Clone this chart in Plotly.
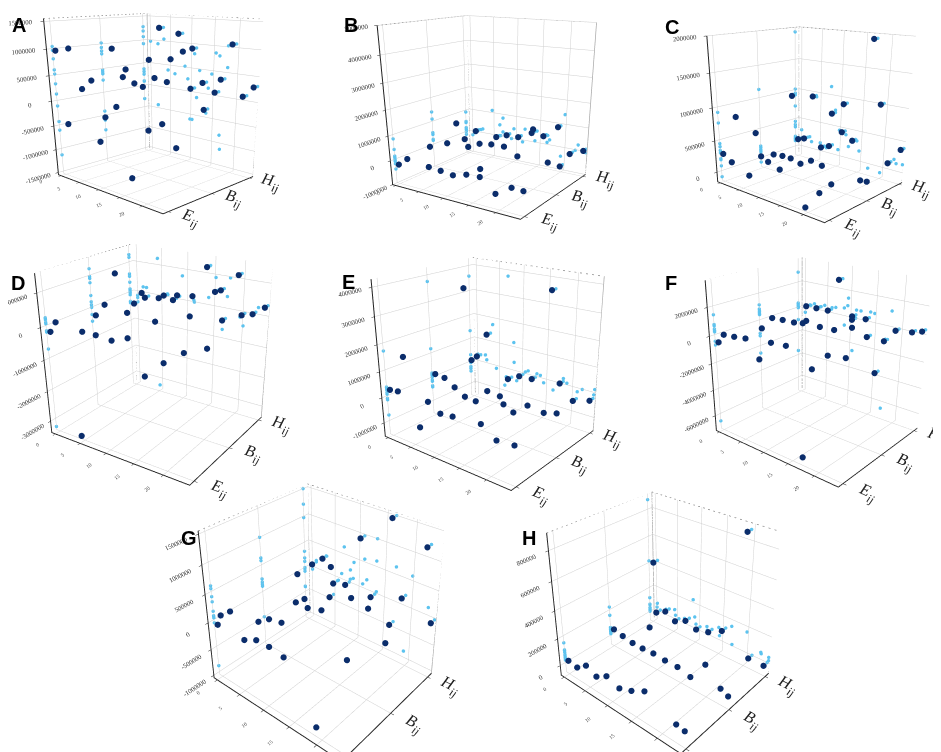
import math
import plotly.graph_objects as go

# ---------------- shared axis content ----------------
CAT_LABELS = ['<i>E</i><sub><i>ij</i></sub>', '<i>B</i><sub><i>ij</i></sub>', '<i>H</i><sub><i>ij</i></sub>']
CAT_POS = [0, 1, 2]
Y_RANGE = [-0.11, 2.11]
X_RANGE = [-0.75, 24.25]
X_TICKS = [0, 5, 10, 15, 20]

# ---------------- panel A ----------------
A_E_x = [0, 3.4, 6.1, 8.5, 16.2, 1.8, 11.3, 13.9, 9.8, 16.8, 17.9]
A_E_z = [970000, 1040000, 330000, 520000, 810000, -430000, -110000, 130000, -610000, -1140000, 600000]
A_B_x = [1.9, 4.4, 9.2, 10.3, 10.7, 15.4, 17.9, 11.9, 14.6, 13.5, 16.6]
A_B_z = [930000, 390000, 260000, -610000, 800000, 860000, 1020000, 470000, 430000, -410000, -830000]
A_H_x = [3.3, 7.9, 11.1, 10.8, 13.5, 13.9, 16.2, 17.4, 19.5, 22.0, 24.0]
A_H_z = [1280000, 1190000, 920000, 90000, 250000, -310000, 90000, 370000, 1070000, 100000, 310000]
A_Z_RANGE = [-1550000, 1550000]
A_Z_TICKS = [-1500000, -1000000, -500000, 0, 500000, 1000000, 1500000]

# ---------------- panel B ----------------
B_E_x = [0, 2.0, 6.5, 7.0, 8.9, 11.3, 13.9, 16.5, 16.4, 19.2, 22.0, 24.0]
B_E_z = [-190000, 130000, 10000, 830000, -30000, -90000, 60000, 400000, 90000, -410000, -30000, -50000]
B_B_x = [2.4, 4.6, 6.3, 7.0, 9.4, 11.8, 14.3, 16.9, 19.7, 22.5]
B_B_z = [170000, 1100000, 500000, 200000, 430000, 500000, 510000, 220000, 1400000, 220000]
B_H_x = [1.5, 6.2, 8.5, 11.0, 13.8, 16.2, 19.0, 19.7, 21.5, 24.0]
B_H_z = [100000, 0, 170000, 180000, 470000, 420000, 910000, -770000, -140000, 100000]
B_Z_RANGE = [-1000000, 5000000]
B_Z_TICKS = [-1000000, 0, 1000000, 2000000, 3000000, 4000000, 5000000]

# ---------------- panel C ----------------
C_E_x = [0, 2.2, 3.9, 6.6, 8.6, 9.7, 11.3, 13.9, 22.2, 19.4]
C_E_z = [290000, 200000, 920000, 80000, 760000, 440000, 390000, 330000, 180000, -100000]
C_B_x = [2.7, 5.0, 7.1, 7.5, 9.5, 12.0, 14.5, 16.7, 22.7, 24.0]
C_B_z = [120000, 140000, 140000, 1130000, 100000, 200000, 170000, -80000, 120000, 130000]
C_H_x = [0, 1.6, 3.8, 6.1, 8.1, 8.6, 11.1, 11.3, 13.6, 17.1, 19.3, 21.6, 24.0]
C_H_z = [140000, 180000, 940000, 100000, 160000, 720000, 450000, 910000, 350000, 1930000, 1010000, 130000, 390000]
C_Z_RANGE = [-160000, 2000000]
C_Z_TICKS = [0, 500000, 1000000, 1500000, 2000000]

# ---------------- panel D ----------------
D_E_x = [0, 1.2, 4.4, 6.1, 8.5, 11.2, 13.9, 16.5, 19.5, 22.5]
D_E_z = [-160000, 170000, -3290000, 90000, 90000, 50000, 230000, -720000, -200000, 210000]
D_B_x = [0, 1.9, 4.2, 6.2, 9.0, 11.3, 15.1, 17.2, 17.6, 20.1]
D_B_z = [-240000, 170000, 1200000, 70000, 770000, -10000, 900000, 370000, 960000, -460000]
D_H_x = [0, 2.3, 5.1, 6.1, 7.9, 14.1, 15.6, 16.6, 17.0, 19.5, 20.3, 22.1, 24.0]
D_H_z = [-390000, -110000, -30000, 90000, 0, 1240000, 520000, 600000, -340000, 1150000, -50000, 50000, 320000]
D_Z_RANGE = [-3400000, 1550000]
D_Z_TICKS = [-3000000, -2000000, -1000000, 0, 1000000]

# ---------------- panel E ----------------
E_E_x = [0, 1.8, 3.5, 6.2, 8.2, 10.6, 13.0, 18.2, 20.9, 23.9]
E_E_z = [280000, 330000, 1710000, -770000, 340000, 60000, 120000, 220000, -160000, -100000]
E_B_x = [0, 2.1, 4.3, 6.5, 6.8, 8.1, 8.8, 11.2, 13.7, 14.4, 16.3, 18.9, 21.8, 24.0]
E_B_z = [170000, 130000, -130000, -380000, 3760000, 1170000, -420000, 140000, 90000, -180000, -370000, 70000, -10000, 120000]
E_H_x = [0.7, 3.0, 7.7, 10.1, 12.7, 16.1, 18.2, 20.8, 23.8]
E_H_z = [280000, 1330000, -330000, -70000, -40000, 3580000, 100000, -450000, -250000]
E_Z_RANGE = [-1550000, 4270000]
E_Z_TICKS = [-1000000, 0, 1000000, 2000000, 3000000, 4000000]

# ---------------- panel F ----------------
F_E_x = [0, 1.3, 3.6, 6.0, 8.7, 9.4, 11.1, 13.9, 16.9]
F_E_z = [-470000, 200000, 280000, 400000, -740000, 1400000, 630000, 720000, -6600000]
F_B_x = [2.1, 4.4, 6.8, 8.6, 9.3, 10.5, 12.0, 13.6, 14.7, 17.0, 17.9]
F_B_z = [390000, 450000, 480000, 590000, 820000, -2600000, 640000, -1240000, 680000, -1040000, 1130000]
F_H_x = [1.1, 3.4, 5.9, 8.1, 11.0, 11.0, 13.7, 14.1, 16.0, 17.4, 19.4, 22.3, 24.0]
F_H_z = [220000, 250000, 270000, 2760000, 260000, 0, 280000, -1030000, -3650000, -1020000, -50000, 110000, 330000]
F_Z_RANGE = [-7200000, 3800000]
F_Z_TICKS = [-6000000, -4000000, -2000000, 0, 2000000]

# ---------------- panel G ----------------
G_E_x = [0, 0.9, 3.1, 5.7, 8.2, 8.9, 10.7, 11.0, 13.3, 13.4, 19.0]
G_E_z = [-60000, 150000, 320000, -60000, 60000, 410000, 70000, 550000, 600000, 30000, -880000]
G_B_x = [6.4, 6.9, 8.2, 8.8, 11.5, 13.3, 16.3, 16.9, 19.8, 22.8]
G_B_z = [100000, 630000, 240000, 100000, 180000, 1000000, -500000, 630000, 580000, 140000]
G_H_x = [0.9, 3.2, 4.7, 5.5, 8.0, 10.9, 13.1, 16.5, 16.8, 18.8, 22.5, 24.0]
G_H_z = [120000, 320000, -390000, -80000, -5000, 970000, -30000, 1500000, -400000, 190000, 1220000, -30000]
G_Z_RANGE = [-1050000, 1550000]
G_Z_TICKS = [-1000000, -500000, 0, 500000, 1000000, 1500000]

# ---------------- panel H ----------------
H_E_x = [0, 2.1, 4.3, 6.6, 8.9, 11.6, 14.1, 16.7, 22.5, 24.0]
H_E_z = [27000, 17000, 75000, 40000, 90000, 59000, 95000, 148000, 53000, 43000]
H_B_x = [0.1, 2.2, 4.5, 6.8, 8.5, 9.2, 11.7, 14.3, 16.9, 19.7, 22.6, 24.0]
H_B_z = [60000, 44000, 31000, 30000, 221000, 37000, 31000, 33000, 10000, 157000, 44000, 18000]
H_H_x = [0.3, 0.8, 3.0, 5.3, 7.7, 10.1, 12.7, 15.5, 19.4, 20.9, 23.8]
H_H_z = [412000, 14000, 59000, 16000, 60000, 31000, 55000, 114000, 868000, 0, 0]
H_Z_RANGE = [-74000, 910000]
H_Z_TICKS = [0, 200000, 400000, 600000, 800000]

PANELS = [
    ('A', [(A_E_x, A_E_z), (A_B_x, A_B_z), (A_H_x, A_H_z)], A_Z_RANGE, A_Z_TICKS),
    ('B', [(B_E_x, B_E_z), (B_B_x, B_B_z), (B_H_x, B_H_z)], B_Z_RANGE, B_Z_TICKS),
    ('C', [(C_E_x, C_E_z), (C_B_x, C_B_z), (C_H_x, C_H_z)], C_Z_RANGE, C_Z_TICKS),
    ('D', [(D_E_x, D_E_z), (D_B_x, D_B_z), (D_H_x, D_H_z)], D_Z_RANGE, D_Z_TICKS),
    ('E', [(E_E_x, E_E_z), (E_B_x, E_B_z), (E_H_x, E_H_z)], E_Z_RANGE, E_Z_TICKS),
    ('F', [(F_E_x, F_E_z), (F_B_x, F_B_z), (F_H_x, F_H_z)], F_Z_RANGE, F_Z_TICKS),
    ('G', [(G_E_x, G_E_z), (G_B_x, G_B_z), (G_H_x, G_H_z)], G_Z_RANGE, G_Z_TICKS),
    ('H', [(H_E_x, H_E_z), (H_B_x, H_B_z), (H_H_x, H_H_z)], H_Z_RANGE, H_Z_TICKS),
]

# ---------------- layout / style (pixels of a 941x752 page) ----------------
W, H = 941, 752
BOX_CENTER = {'A': (157, 117), 'B': (494, 122), 'C': (815, 130),
              'D': (161, 372), 'E': (493, 380), 'F': (823, 380),
              'G': (326, 634), 'H': (668, 634)}
BOX_SCALE = {'A': 0.94, 'B': 0.94, 'C': 0.89, 'D': 1.02, 'E': 1.0, 'F': 0.97, 'G': 1.05, 'H': 1.0}
VIEW = {'A': (-47, 24.6), 'B': (-57, 26.0), 'C': (-48, 25.4), 'D': (-57, 25.5),
        'E': (-52, 23.0), 'F': (-50, 24.5), 'G': (-50.4, 25.0), 'H': (-49.5, 24.0)}
LETTER_POS = {'A': (2, 4), 'B': (334, 4), 'C': (655, 6), 'D': (1, 262),
              'E': (332, 261), 'F': (655, 262), 'G': (171, 517), 'H': (512, 517)}
ASPECT = dict(x=1.0, y=0.88, z=1.0)
DOM_HALF_W = 175
DOM_HGT = 465                 # base scene height; scaled per panel
EYE_R = 3.4
K_PX = 1.275                  # screen px per scene unit = K_PX * domain height / eye distance
BIAS = (-12, -30)

NAVY = '#0b2d6b'
LIGHT = '#5cc3ef'
FRAME = '#8a8a8a'

fig = go.Figure()
layout_scenes = {}
annotations = []

for i, (name, cats, zr, zt) in enumerate(PANELS):
    scene_id = 'scene' if i == 0 else f'scene{i + 1}'
    px, py, pz = [], [], []
    for ci, (xs, zs) in enumerate(cats):
        for xv, zv in zip(xs, zs):
            px += [X_RANGE[0], xv]
            py += [CAT_POS[ci], Y_RANGE[1]]
            pz += [zv, zv]
    fig.add_trace(go.Scatter3d(x=px, y=py, z=pz, mode='markers', scene=scene_id,
                               marker=dict(size=2.0, color=LIGHT, line=dict(width=0)),
                               showlegend=False, hoverinfo='skip'))
    dx, dy, dz = [], [], []
    for ci, (xs, zs) in enumerate(cats):
        dx += list(xs)
        dy += [CAT_POS[ci]] * len(xs)
        dz += list(zs)
    fig.add_trace(go.Scatter3d(x=dx, y=dy, z=dz, mode='markers', scene=scene_id,
                               marker=dict(size=3.6, color=NAVY, line=dict(width=0)),
                               showlegend=False))
    x0, x1 = X_RANGE
    y0, y1 = Y_RANGE
    z0, z1 = zr
    fig.add_trace(go.Scatter3d(
        x=[x0, x0, x1], y=[y0, y1, y1], z=[z1, z1, z1],
        mode='lines', scene=scene_id, line=dict(color=FRAME, width=1.5, dash='dash'),
        showlegend=False, hoverinfo='skip'))
    fig.add_trace(go.Scatter3d(
        x=[x0, x0, None, x1, x1], y=[y1, y1, None, y1, y1], z=[z0, z1, None, z1, z0],
        mode='lines', scene=scene_id, line=dict(color='#aaaaaa', width=1.5),
        showlegend=False, hoverinfo='skip'))

    cx, cy = BOX_CENTER[name]
    dom_h = DOM_HGT * BOX_SCALE[name]
    left, right = max(0, cx - DOM_HALF_W), min(W, cx + DOM_HALF_W)
    top = min(max(0, cy - dom_h / 2), H - dom_h)
    bottom = top + dom_h
    xd = [left / W, right / W]
    yd = [max(0, 1 - bottom / H), min(1, 1 - top / H)]
    s = K_PX * dom_h / EYE_R
    sx = (cx + BIAS[0]) - (left + right) / 2
    sy = (cy + BIAS[1]) - (top + bottom) / 2

    az, el = VIEW[name]
    a, e = math.radians(az), math.radians(el)
    rv = (-math.sin(a), math.cos(a), 0.0)
    uv = (-math.cos(a) * math.sin(e), -math.sin(a) * math.sin(e), math.cos(e))
    t = [(-sx * rv[k] + sy * uv[k]) / s for k in range(3)]
    eye = dict(x=EYE_R * math.cos(e) * math.cos(a) + t[0],
               y=EYE_R * math.cos(e) * math.sin(a) + t[1],
               z=EYE_R * math.sin(e) + t[2])
    center = dict(x=t[0], y=t[1], z=t[2])
    common = dict(showbackground=False, gridcolor='#cfcfcf', gridwidth=1, showline=True,
                  linecolor='#222222', linewidth=2, zeroline=False, showspikes=False,
                  title=dict(text=''), ticks='outside', ticklen=3, tickcolor='#222222')
    layout_scenes[scene_id] = dict(
        domain=dict(x=xd, y=yd),
        aspectmode='manual',
        aspectratio=ASPECT,
        camera=dict(eye=eye, up=dict(x=0, y=0, z=1), center=center),
        xaxis=dict(common, range=X_RANGE, tickvals=X_TICKS, ticktext=[str(v) for v in X_TICKS],
                   tickfont=dict(family='Liberation Serif', size=8, color='#444')),
        yaxis=dict(common, range=Y_RANGE, tickvals=CAT_POS, ticktext=CAT_LABELS,
                   tickfont=dict(family='Liberation Serif', size=14, color='#222')),
        zaxis=dict(common, range=zr, tickvals=zt, ticktext=[str(v) for v in zt],
                   tickfont=dict(family='Liberation Serif', size=9, color='#333')),
        bgcolor='rgba(0,0,0,0)',
    )
    lx, ly = LETTER_POS[name]
    annotations.append(dict(text=f'<b>{name}</b>', x=lx / W, y=1 - ly / H, xref='paper', yref='paper',
                            xanchor='left', yanchor='top', showarrow=False,
                            font=dict(family='Liberation Sans', size=20, color='#000')))

fig.update_layout(width=W, height=H, margin=dict(l=0, r=0, t=0, b=0),
                  paper_bgcolor='white', plot_bgcolor='white',
                  annotations=annotations, showlegend=False, **layout_scenes)
fig.write_html('out.html')
